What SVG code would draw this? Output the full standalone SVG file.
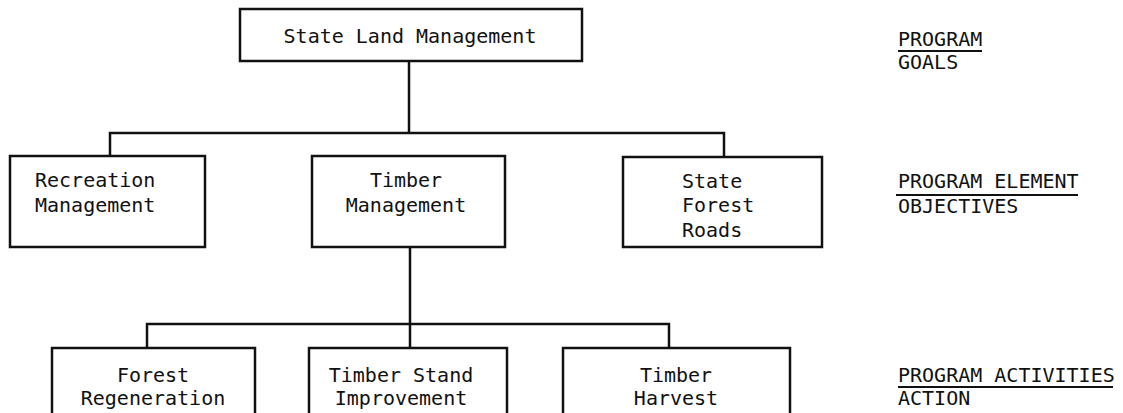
<svg xmlns="http://www.w3.org/2000/svg" width="1123" height="413" viewBox="0 0 1123 413">
<style>
.box{fill:#fff;stroke:#111;stroke-width:2.5}
.ln{fill:none;stroke:#111;stroke-width:2.5}
.t{font-family:"DejaVu Sans Mono","Liberation Mono",monospace;font-size:20px;fill:#111}
.m{text-anchor:middle}
.ul{stroke:#111;stroke-width:1.8}
</style>
<rect width="1123" height="413" fill="#fff"/>
<g id="connectors">
<path class="ln" d="M409 61V133M110 156V133H724V157"/>
<path class="ln" d="M410 247V324M147 348V324H669V348M410 324V348"/>
</g>
<g id="state-land-management">
<rect class="box" x="240" y="9" width="342" height="52"/>
<text class="t m" x="410" y="43">State Land Management</text>
</g>
<g id="recreation-management">
<rect class="box" x="10" y="156" width="195" height="91"/>
<text class="t" x="35" y="187">Recreation</text>
<text class="t" x="35" y="212">Management</text>
</g>
<g id="timber-management">
<rect class="box" x="312" y="156" width="193" height="91"/>
<text class="t m" x="406" y="187">Timber</text>
<text class="t m" x="406" y="212">Management</text>
</g>
<g id="state-forest-roads">
<rect class="box" x="623" y="157" width="199" height="90"/>
<text class="t" x="682" y="188">State</text>
<text class="t" x="682" y="212">Forest</text>
<text class="t" x="682" y="237">Roads</text>
</g>
<g id="forest-regeneration">
<rect class="box" x="52" y="348" width="203" height="80"/>
<text class="t m" x="153" y="382">Forest</text>
<text class="t m" x="153" y="405">Regeneration</text>
</g>
<g id="timber-stand-improvement">
<rect class="box" x="309" y="348" width="198" height="80"/>
<text class="t m" x="401" y="382">Timber Stand</text>
<text class="t m" x="401" y="405">Improvement</text>
</g>
<g id="timber-harvest">
<rect class="box" x="563" y="348" width="227" height="80"/>
<text class="t m" x="676" y="382">Timber</text>
<text class="t m" x="676" y="405">Harvest</text>
</g>
<g id="level-labels">
<text class="t" x="898" y="46">PROGRAM</text>
<line class="ul" x1="898" y1="51" x2="982" y2="51"/>
<text class="t" x="898" y="69">GOALS</text>
<text class="t" x="898" y="188">PROGRAM ELEMENT</text>
<line class="ul" x1="896" y1="195" x2="1078" y2="195"/>
<text class="t" x="898" y="213">OBJECTIVES</text>
<text class="t" x="898" y="382">PROGRAM ACTIVITIES</text>
<line class="ul" x1="898" y1="387" x2="1113" y2="387"/>
<text class="t" x="898" y="405">ACTION</text>
</g>
</svg>
